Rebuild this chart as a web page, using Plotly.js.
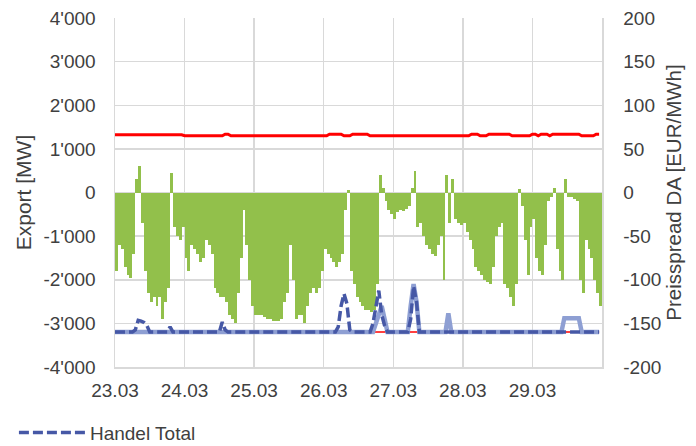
<!DOCTYPE html>
<html>
<head>
<meta charset="utf-8">
<script src="https://cdn.plot.ly/plotly-3.0.1.min.js"></script>
<style>html,body{margin:0;padding:0;background:#fff}#chart{width:696px;height:446px}</style>
</head>
<body>
<div id="chart"></div>
<script>
// ---- data (hourly, 23.03 00:00 .. 29.03 23:00) ----
const startDay = '2023-03-23';
const exportMW = [
 -1800,-1200,-1300,-1700,-1900,-1950,-1400,300,600,-700,-1800,-2300,-2500,-2400,-2600,-2400,-2900,-2500,-2200,450,-800,-1000,-1100,-800,
 -1500,-1800,-1200,-1300,-1400,-1600,-1500,-1100,-1200,-1400,-2200,-2300,-2400,-2400,-2500,-2800,-2900,-3000,-2300,-1500,-400,-1200,-2000,-2600,
 -2800,-2800,-2800,-2850,-2900,-2900,-2950,-2950,-2950,-2900,-2500,-2300,-1200,-2000,-2900,-2800,-2800,-3000,-2600,-2300,-2200,-2300,-2200,-1800,
 -1300,-1400,-1500,-1600,-1700,-1600,-1400,-400,50,-1800,-2100,-2400,-2500,-2600,-2700,-2700,-2750,-2700,-2100,400,100,-200,-400,-500,
 -600,-450,-400,-420,-380,-300,100,500,-800,-700,-1000,-1200,-1300,-1400,-1450,-1200,-1000,-2000,400,-700,300,-600,-700,-750,
 -700,-900,-1100,-1300,-1700,-1800,-1900,-2000,-2050,-2100,-1700,-1000,-800,-700,-2100,-2200,-2400,-2600,-2100,80,-300,-1100,-1900,-800,
 -600,-1500,-1800,-1900,-1200,-200,-100,100,-1300,-1800,-2000,300,-100,-100,-150,-200,-2000,-2300,-1100,-1300,-1500,-2000,-2300,-2600
];
const spreadTop = [
 66.1,66.1,66.1,66.1,66.1,66.1,66.1,66.1,66.1,66.1,66.1,66.1,66.1,66.1,66.1,66.1,66.1,66.1,66.1,66.1,66.1,66.1,66.1,66.1,
 65.0,65.0,65.0,65.0,65.0,65.0,65.0,65.0,65.0,65.0,65.0,65.0,65.0,65.0,66.9,66.9,65.0,65.0,65.0,65.0,65.0,65.0,65.0,65.0,
 65.0,65.0,65.0,65.0,65.0,65.0,65.0,65.0,65.0,65.0,65.0,65.0,65.0,65.0,65.0,65.0,65.0,65.0,65.0,65.0,65.0,65.0,65.0,65.0,
 65.0,65.0,66.9,66.9,66.9,66.9,66.9,65.0,65.0,65.0,66.9,66.9,66.9,66.9,66.9,66.9,65.0,65.0,65.0,65.0,65.0,65.0,65.0,65.0,
 65.0,65.0,65.0,65.0,65.0,65.0,65.0,65.0,65.0,65.0,65.0,65.0,65.0,65.0,65.0,65.0,65.0,65.0,65.0,65.0,65.0,65.0,65.0,65.0,
 65.0,65.0,65.0,66.9,66.9,66.9,65.0,65.0,65.0,66.9,66.9,66.9,66.9,66.9,66.9,66.9,66.9,65.0,65.0,65.0,65.0,65.0,65.0,65.0,
 66.9,66.9,65.0,66.9,66.9,66.9,65.0,66.9,66.9,66.9,66.9,66.9,66.9,66.9,66.9,66.9,66.9,65.0,65.0,65.0,65.0,65.0,66.9,66.9
];
const B = -3200;
const handelTotal = [
 B,B,B,B,B,B,B,-3150,-2930,-2950,-2980,-3050,B,B,B,B,B,B,B,-3080,B,B,B,B,
 B,B,B,B,B,B,B,B,B,B,B,B,B,-2970,-3150,B,B,B,B,B,B,B,B,B,
 B,B,B,B,B,B,B,B,B,B,B,B,B,B,B,B,B,B,B,B,B,B,B,B,
 B,B,B,B,B,-3080,-2600,-2320,-2550,-3150,B,B,B,B,B,B,B,-3000,-2650,-2250,-2800,-3050,B,B,
 B,B,B,B,B,B,-2900,-2150,-2500,B,B,B,B,B,B,B,B,B,B,B,B,B,B,B,
 B,B,B,B,B,B,B,B,B,B,B,B,B,B,B,B,B,B,B,B,B,B,B,B,
 B,B,B,B,B,B,B,B,B,B,B,B,B,B,B,B,B,B,B,B,B,B,B,B
];
const handelSub = [
 B,B,B,B,B,B,B,B,B,B,B,B,B,B,B,B,B,B,B,B,B,B,B,B,
 B,B,B,B,B,B,B,B,B,B,B,B,B,B,B,B,B,B,B,B,B,B,B,B,
 B,B,B,B,B,B,B,B,B,B,B,B,B,B,B,B,B,B,B,B,B,B,B,B,
 B,B,B,B,B,B,B,B,B,B,B,B,B,B,B,B,B,B,-3000,-2800,-2600,-2900,B,B,
 B,B,B,B,B,B,-2600,-2100,-2500,B,B,B,B,B,B,B,B,B,B,-2770,B,B,B,B,
 B,B,B,B,B,B,B,B,B,B,B,B,B,B,B,B,B,B,B,B,B,B,B,B,
 B,B,B,B,B,B,B,B,B,B,B,-2880,-2880,-2880,-2880,-2880,-2880,B,B,B,B,B,B,B
];
const baseRedMW = exportMW.map(() => -3200);
const dayLabels = ['23.03','24.03','25.03','26.03','27.03','28.03','29.03'];
const yTicks = [-4000,-3000,-2000,-1000,0,1000,2000,3000,4000];
const yTickText = ["-4'000","-3'000","-2'000","-1'000","0","1'000","2'000","3'000","4'000"];
const y2Ticks = [-200,-150,-100,-50,0,50,100,150,200];
const y2TickText = ["-200","-150","-100","-50","0","50","100","150","200"];

// hourly timestamps
const t0 = new Date(startDay + 'T00:00:00Z').getTime();
const fmt = ms => new Date(ms).toISOString().slice(0,16).replace('T',' ');
const times = exportMW.map((_, i) => fmt(t0 + i * 3600000));
const dayVals = dayLabels.map((_, i) => fmt(t0 + i * 86400000));
const endTime = fmt(t0 + exportMW.length * 3600000);

const grid = '#d9d9d9';
const txt = '#404040';
const fam = 'Liberation Sans, Arial, sans-serif';

const traces = [
  {type:'bar', x: times, y: exportMW, offset: 0, width: 3600000,
   marker:{color:'#92c04b', line:{width:0}}, name:'Export', showlegend:false, hoverinfo:'skip'},
  {type:'scatter', mode:'lines', x: times, y: baseRedMW,
   line:{color:'#ff0000', width:1.5}, name:'Preisspread 2', showlegend:false},
  {type:'scatter', mode:'lines', x: times, y: handelSub,
   line:{color:'#8e9fd3', width:4.5}, name:'Handel', showlegend:false},
  {type:'scatter', mode:'lines', x: times, y: handelTotal,
   line:{color:'#4658a6', width:3.5, dash:'10px,4px'}, name:'Handel Total', showlegend:true},
  {type:'scatter', mode:'lines', x: times, y: spreadTop, yaxis:'y2',
   line:{color:'#ff0000', width:3}, name:'Preisspread', showlegend:false}
];

const layout = {
  width: 696, height: 446,
  margin: {l: 115, r: 94, t: 18, b: 79},
  paper_bgcolor: '#fff', plot_bgcolor: '#fff',
  font: {family: fam, size: 19, color: txt},
  bargap: 0,
  showlegend: true,
  legend: {xref:'container', yref:'container', x: 0.02, y: 0.03, xanchor:'left', yanchor:'middle',
           orientation:'h', font: {family: fam, size: 19, color: txt}, itemwidth: 66},
  xaxis: {type:'date', range:[times[0], endTime], tickmode:'array', tickvals: dayVals, ticktext: dayLabels,
          showgrid:true, gridcolor:grid, gridwidth:1.5, showline:true, linecolor:grid, linewidth:1.5,
          ticks:'', ticklabelstandoff: 6, zeroline:false},
  yaxis: {range:[-4000,4000], tickvals:yTicks, ticktext:yTickText, showgrid:true, gridcolor:grid, gridwidth:1.5,
          zeroline:true, zerolinecolor:grid, zerolinewidth:1.5, showline:true, linecolor:grid, linewidth:1.5,
          ticks:'', ticklabelstandoff: 14,
          title:{text:'Export [MW]', font:{family: fam, size: 21, color: txt}, standoff: 6}},
  yaxis2: {range:[-200,200], tickvals:y2Ticks, ticktext:y2TickText, overlaying:'y', side:'right', showgrid:false,
           zeroline:false, showline:true, linecolor:grid, linewidth:1.5, ticks:'', ticklabelstandoff: 16,
           title:{text:'Preisspread DA [EUR/MWh]', font:{family: fam, size: 20.5, color: txt}, standoff: 6}}
};

Plotly.newPlot('chart', traces, layout, {displayModeBar:false, staticPlot:true});
</script>
</body>
</html>
